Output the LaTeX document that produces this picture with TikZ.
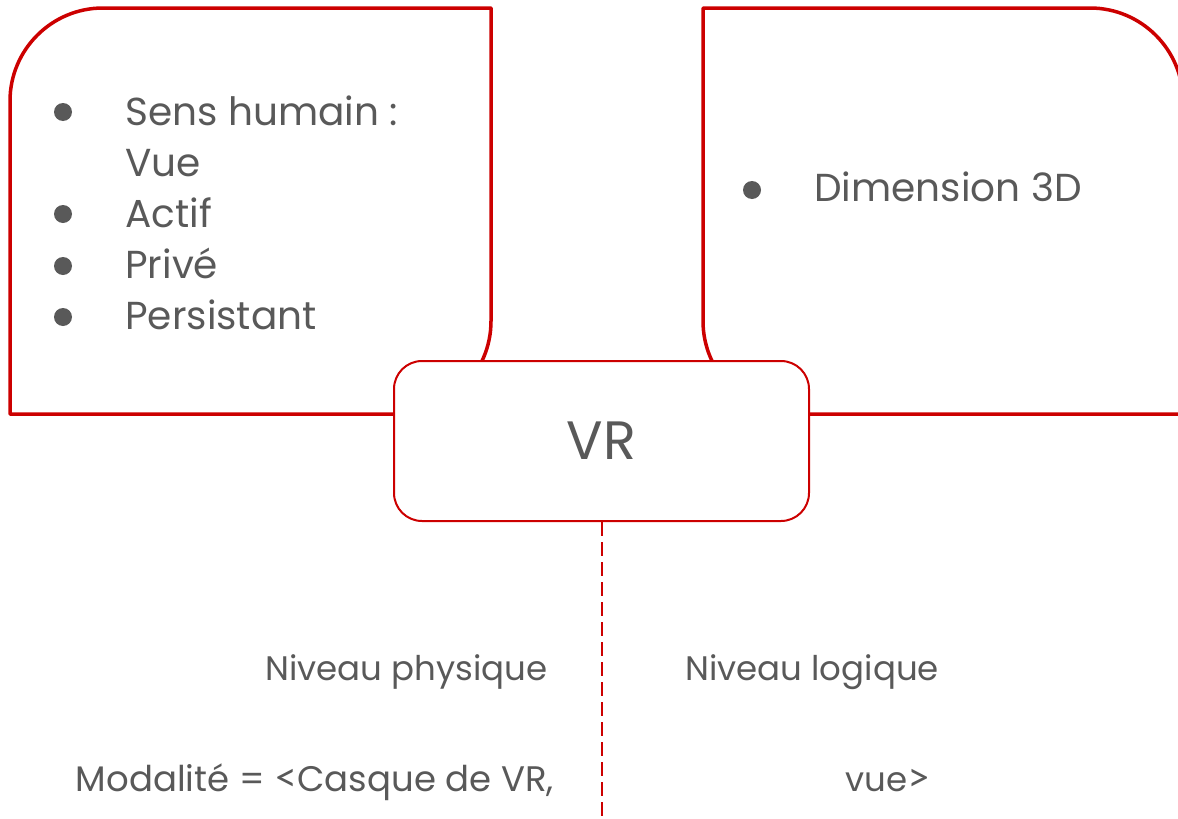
\documentclass[tikz,border=0pt]{standalone}
\usepackage{fontspec}
\setmainfont{Poppins}
\newfontfamily\anglefont{Lato}
\definecolor{vrred}{HTML}{CC0000}
\definecolor{txtgray}{HTML}{595959}
\newcommand{\ltag}{{\anglefont\fontsize{40}{48}\selectfont <}}
\newcommand{\rtag}{{\anglefont\fontsize{40}{48}\selectfont >}}
\tikzset{every picture/.style={line width=0.75pt}}
\tikzset{
  bigbox/.style={draw=vrred, line width=3.5pt, line join=round},
  vrbox/.style={draw=vrred, line width=2pt, fill=white, rounded corners=28pt,
    minimum width=415pt, minimum height=160pt, inner sep=0pt},
  bulletdot/.style={circle, fill=txtgray, inner sep=0pt, minimum size=18pt},
  itemtext/.style={anchor=base west, inner sep=0pt, text=txtgray, font=\fontsize{39}{47}\selectfont},
  leveltext/.style={inner sep=0pt, text=txtgray, font=\fontsize{34}{41}\selectfont}
}

\begin{document}
\begin{tikzpicture}[x=1pt,y=1pt,yscale=-1,xscale=1]
	\useasboundingbox (0,0) rectangle (1178,819);
	\clip (0,0) rectangle (1178,819);

	%Shape: Left panel
	\draw [bigbox] (10,414) -- (10,101) arc[start angle=180, end angle=270, radius=93] -- (491,8) -- (491,321) arc[start angle=0, end angle=90, radius=93] -- cycle ;
	%Shape: Right panel
	\draw [bigbox] (703,8) -- (1090,8) arc[start angle=270, end angle=360, radius=93] -- (1183,414) -- (796,414) arc[start angle=90, end angle=180, radius=93] -- cycle ;

	% Bullets and items, left panel
	\node [bulletdot] (b1) at (63,112) {};
	\node [itemtext] (sens) at (125,125) {Sens humain :};
	\node [itemtext] (vue) at (125,176) {Vue};
	\node [bulletdot] (b2) at (63,214) {};
	\node [itemtext] (actif) at (125,227) {Actif};
	\node [bulletdot] (b3) at (63,266) {};
	\node [itemtext] (prive) at (125,278) {Privé};
	\node [bulletdot] (b4) at (63,317) {};
	\node [itemtext] (persistant) at (125,329) {Persistant};

	% Bullet and item, right panel
	\node [bulletdot] (b5) at (752,190) {};
	\node [itemtext] (dimension) at (814,201) {Dimension 3D};

	% Central node
	\node [vrbox] (vr) at (601.5,441) {\textcolor{txtgray}{\fontsize{54}{64}\selectfont VR}};
	\coordinate (bottom) at (601.5,819);
	\draw [vrred, line width=2pt, dash pattern={on 14pt off 6pt}] (vr.south) -- (bottom) ;

	% Text Node
	\node [leveltext, anchor=base east] (physique) at (548,680) {Niveau physique};
	% Text Node
	\node [leveltext, anchor=base west] (logique) at (685,680) {Niveau logique};
	% Text Node
	\node [leveltext, anchor=base east, font=\fontsize{35.5}{42}\selectfont] (modalite) at (554,791) {Modalité = \ltag Casque de VR,};
	% Text Node
	\node [leveltext, anchor=base west] (vuemod) at (845,791) {vue\rtag};

\end{tikzpicture}
\end{document}
